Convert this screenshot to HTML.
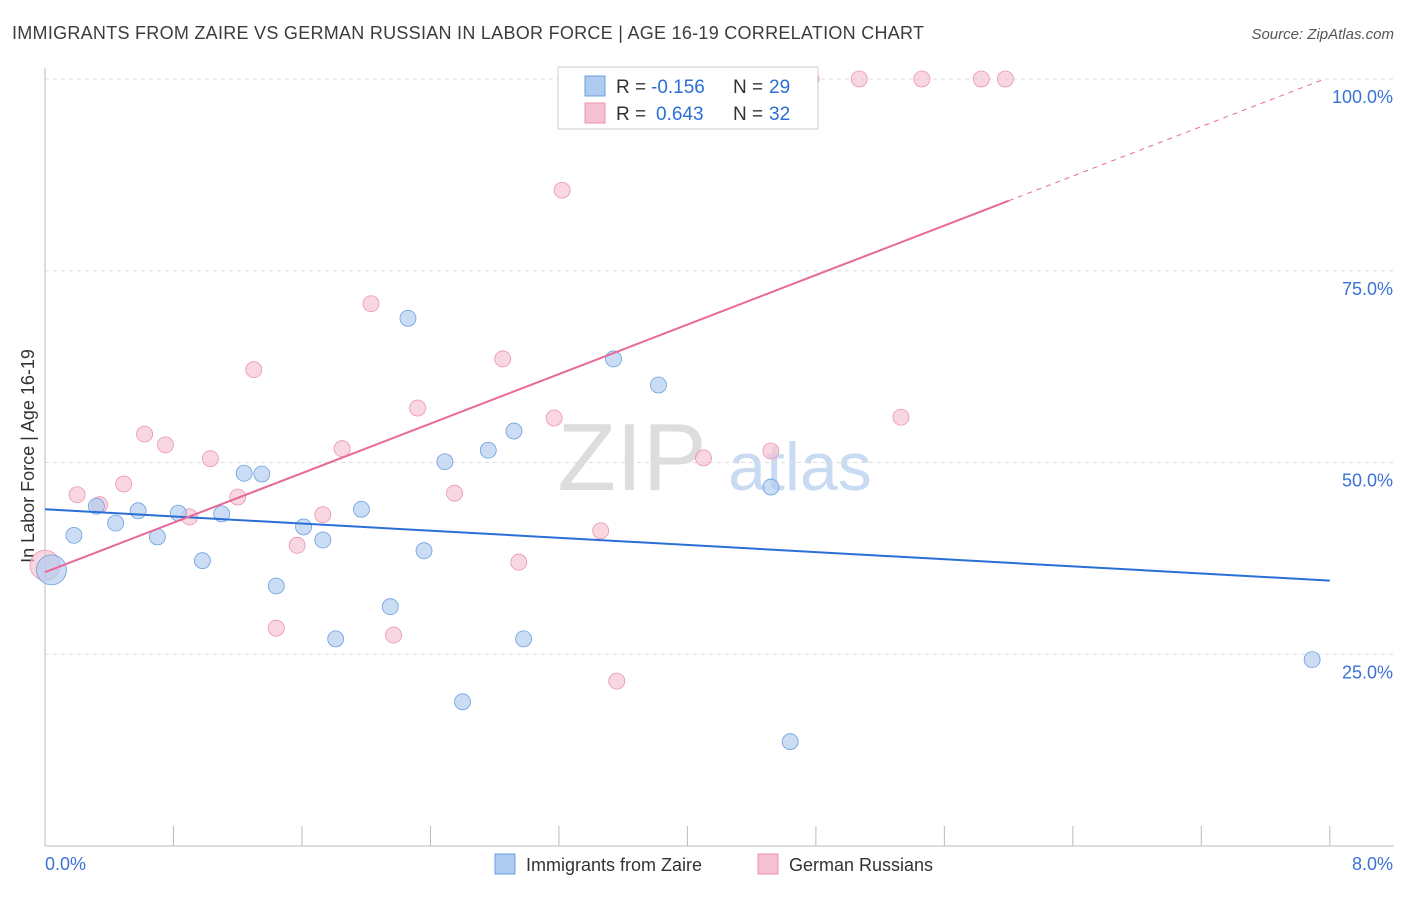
<!DOCTYPE html>
<html><head><meta charset="utf-8"><style>
body{margin:0;background:#fff;font-family:"Liberation Sans",sans-serif;}
svg text{font-family:"Liberation Sans",sans-serif;}
</style></head><body>
<svg id="c" width="1406" height="892" xmlns="http://www.w3.org/2000/svg">
<text x="12" y="39" font-size="18" fill="#3c3c3c" textLength="912">IMMIGRANTS FROM ZAIRE VS GERMAN RUSSIAN IN LABOR FORCE | AGE 16-19 CORRELATION CHART</text>
<text x="1394" y="39" font-size="15" fill="#555" text-anchor="end" font-style="italic">Source: ZipAtlas.com</text>
<text x="632" y="490" font-size="96" fill="#ddd" font-family="Liberation Serif" text-anchor="middle">ZIP</text>
<text x="800" y="490" font-size="68" fill="#c9dbf2" text-anchor="middle">atlas</text>
<text transform="translate(34,456) rotate(-90)" font-size="18" fill="#333" text-anchor="middle">In Labor Force | Age 16-19</text>
<g id="grid"></g><g id="marks"></g>
<g>
<rect x="558" y="67" width="260" height="62" fill="#fff" stroke="#ccc"/>
<rect x="585" y="76" width="20" height="20" fill="#aecbf0" stroke="#6c9ee0"/>
<rect x="585" y="103" width="20" height="20" fill="#f6c1d1" stroke="#eb93ad"/>
<text x="616" y="93" font-size="19" fill="#333">R =</text>
<text x="651" y="93" font-size="19" fill="#2a6fd6">-0.156</text>
<text x="733" y="93" font-size="19" fill="#333">N =</text>
<text x="769" y="93" font-size="19" fill="#2a6fd6">29</text>
<text x="616" y="120" font-size="19" fill="#333">R =</text>
<text x="656" y="120" font-size="19" fill="#2a6fd6">0.643</text>
<text x="733" y="120" font-size="19" fill="#333">N =</text>
<text x="769" y="120" font-size="19" fill="#2a6fd6">32</text>
</g>
<g>
<rect x="495" y="854" width="20" height="20" fill="#aecbf0" stroke="#6c9ee0"/>
<text x="526" y="871" font-size="18" fill="#333">Immigrants from Zaire</text>
<rect x="758" y="854" width="20" height="20" fill="#f6c1d1" stroke="#eb93ad"/>
<text x="789" y="871" font-size="18" fill="#333">German Russians</text>
</g>
</svg>
<script>
const blueX=[0.04,0.18,0.32,0.44,0.58,0.70,0.83,0.98,1.10,1.24,1.35,1.44,1.61,1.73,1.81,1.97,2.15,2.26,2.36,2.49,2.60,2.76,2.92,2.98,3.54,3.82,4.52,4.64,7.89];
const blueY=[36.0,40.5,44.3,42.1,43.7,40.3,43.4,37.2,43.3,48.6,48.5,33.9,41.6,39.9,27.0,43.9,31.2,68.8,38.5,50.1,18.8,51.6,54.1,27.0,63.5,60.1,46.8,13.6,24.3];
const pinkX=[0.0,0.20,0.34,0.49,0.62,0.75,0.90,1.03,1.20,1.30,1.44,1.57,1.73,1.85,2.03,2.17,2.32,2.55,2.85,2.95,3.17,3.22,3.46,3.56,4.10,4.52,4.77,5.07,5.33,5.46,5.83,5.98];
const pinkY=[36.6,45.8,44.5,47.2,53.7,52.3,42.9,50.5,45.5,62.1,28.4,39.2,43.2,51.8,70.7,27.5,57.1,46.0,63.5,37.0,55.8,85.5,41.1,21.5,50.6,51.5,100,100,55.9,100,100,100];
const blueTrend=[43.9,34.6];
const pinkTrend=[35.7,8.07];
const yTicks=[25,50,75,100];
const xTickLabels=["0.0%","8.0%"];
const NS="http://www.w3.org/2000/svg";
const X=v=>45+v*160.6, Y=v=>846-v*7.67;
function mk(p,t,a){const e=document.createElementNS(NS,t);for(const k in a)e.setAttribute(k,a[k]);p.appendChild(e);return e;}
const g=document.getElementById('grid'),m=document.getElementById('marks');
yTicks.forEach(t=>{const l=mk(g,'line',{x1:45,x2:1394,y1:Y(t),y2:Y(t),stroke:'#ddd','stroke-dasharray':'4,4'});


const tx=mk(g,'text',{x:1393,y:Y(t)+24,'font-size':18,fill:'#3a72d8','text-anchor':'end'});tx.textContent=t.toFixed(1)+'%';

});
const ax=mk(g,'line',{x1:45,x2:45,y1:68,y2:846,stroke:'#bbb'});


const bx=mk(g,'line',{x1:45,x2:1394,y1:846,y2:846,stroke:'#bbb'});


for(let i=0;i<=10;i++){const l=mk(g,'line',{x1:X(i*0.8),x2:X(i*0.8),y1:826,y2:846,stroke:'#bbb'});

}
[[0,'start',45],[8,'end',1393]].forEach((d,i)=>{const t=mk(g,'text',{x:d[2],y:870,'font-size':18,fill:'#3a72d8','text-anchor':d[1]});t.textContent=xTickLabels[i];

});
function pts(xs,ys,f,s,n){xs.forEach((x,i)=>{const r=(i==0)?15:8;const c=mk(m,'circle',{cx:X(x),cy:Y(ys[i]),r:r,fill:f,stroke:s,'stroke-width':0.8,'fill-opacity':0.65});

});}
pts(pinkX,pinkY,'#f6c1d1','#eb93ad','german-russian');
pts(blueX,blueY,'#aecbf0','#6c9ee0','zaire');
const bl=mk(m,'line',{x1:X(0),y1:Y(blueTrend[0]),x2:X(8),y2:Y(blueTrend[1]),stroke:'#2a6fd6','stroke-width':2});


const xe=6.0,xd=(100-pinkTrend[0])/pinkTrend[1];
const pl=mk(m,'line',{x1:X(0),y1:Y(pinkTrend[0]),x2:X(xe),y2:Y(pinkTrend[0]+pinkTrend[1]*xe),stroke:'#e8689a','stroke-width':2});


const pd=mk(m,'line',{x1:X(xe),y1:Y(pinkTrend[0]+pinkTrend[1]*xe),x2:X(xd),y2:Y(100),stroke:'#e8689a','stroke-width':1,'stroke-dasharray':'5,5'});


</script>
</body></html>
